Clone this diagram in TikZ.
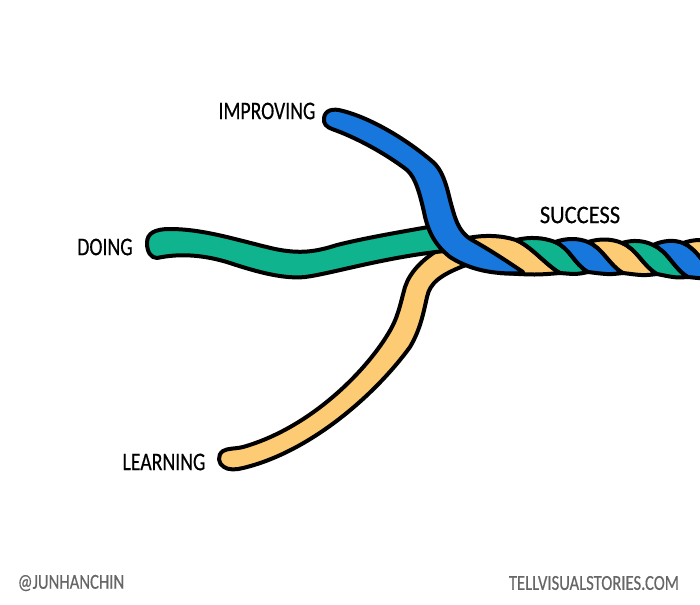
\documentclass[tikz,border=0pt]{standalone}
\usepackage{fontspec}
\setmainfont[FakeStretch=0.78,FakeBold=0.4]{Carlito}
\definecolor{ropeblue}{HTML}{1877DC}
\definecolor{ropegreen}{HTML}{0FB48F}
\definecolor{ropeyellow}{HTML}{FDCB73}
\definecolor{creditgrey}{HTML}{666666}
\tikzset{
  strand/.style={draw=black,line width=3pt,line join=round,fill=#1},
  tag/.style={font=\fontsize{19}{19}\selectfont,text=black,inner sep=0pt},
  credit/.style={font=\fontsize{16}{16}\selectfont,text=creditgrey,inner sep=0pt}
}
% One twist of the rope: top arc, right seam, bottom arc, left seam
\newcommand{\twist}[9]{%
  \draw[strand=#1] (#2,#3) .. controls ($(#2,#3)!.35!(#4,#5)+(0,-4)$) and ($(#2,#3)!.7!(#4,#5)+(0,-4)$) .. (#4,#5)
    .. controls ($(#4,#5)+(15,6)$) and ($(#6,#7)+(-14,-8)$) .. (#6,#7)
    .. controls ($(#6,#7)!.4!(#8,#9)+(0,2)$) .. (#8,#9)
    .. controls ($(#8,#9)+(-14,-8)$) and ($(#2,#3)+(15,6)$) .. cycle;}
\usetikzlibrary{calc}
\begin{document}
\begin{tikzpicture}[x=0.75pt,y=-0.75pt]
\useasboundingbox (0,0) rectangle (700,604);
\clip (0,0) rectangle (700,604);

% Free strands
\draw[strand=ropeyellow] (438,250) .. controls (422,260) and (410,272) .. (405,287)
  .. controls (400,305) and (398,318) .. (388,334)
  .. controls (365,372) and (310,428) .. (243,447)
  .. controls (235,449) and (228,448) .. (223,451)
  .. controls (217,455) and (218,464) .. (224,467)
  .. controls (228,470) and (236,470) .. (243,468)
  .. controls (310,452) and (375,395) .. (410,347)
  .. controls (420,330) and (423,315) .. (427,297)
  .. controls (430,283) and (440,275) .. (466,265)
  -- (480,245) -- cycle;
\draw[strand=ropegreen] (440,225) .. controls (400,232) and (365,238) .. (337,245)
  .. controls (315,252) and (300,254) .. (275,249)
  .. controls (240,241) and (205,229) .. (170,229)
  .. controls (155,229) and (147,233) .. (147,243)
  .. controls (147,252) and (151,258) .. (157,258)
  .. controls (180,253) and (205,255) .. (230,263)
  .. controls (260,273) and (285,279) .. (305,277)
  .. controls (330,274) and (385,257) .. (445,251)
  -- cycle;

% Twisted section, laid left to right
\twist{ropeyellow}{468}{238}{516}{240}{560}{273}{500}{273}
\twist{ropegreen}{516}{240}{555}{242}{588}{272}{560}{273}
\twist{ropeblue}{555}{242}{588}{242}{623}{273}{588}{272}
\twist{ropeyellow}{588}{242}{622}{243}{657}{274}{623}{273}
\twist{ropegreen}{622}{243}{653}{245}{688}{277}{657}{274}
\twist{ropeblue}{653}{245}{683}{243}{720}{277}{688}{277}
\twist{ropeyellow}{683}{243}{716}{243}{750}{277}{720}{277}

% Blue strand crossing over the others
\draw[strand=ropeblue] (523,272) .. controls (505,260) and (490,250) .. (472,240)
  .. controls (458,232) and (455,218) .. (450,200)
  .. controls (446,183) and (442,170) .. (433,162)
  .. controls (405,138) and (370,118) .. (343,111)
  .. controls (333,108) and (325,110) .. (324,118)
  .. controls (323,124) and (327,127) .. (332,129)
  .. controls (355,137) and (385,153) .. (407,170)
  .. controls (416,178) and (420,195) .. (424,212)
  .. controls (428,232) and (435,245) .. (450,257)
  .. controls (470,270) and (495,275) .. (523,273)
  -- cycle;

% Labels
\node[tag] (improving) at (267,111) {IMPROVING};
\node[tag] (doing) at (105,247) {DOING};
\node[tag] (learning) at (164,462) {LEARNING};
\node[tag,xscale=1.14] (success) at (580,215) {SUCCESS};
\node[credit] (author) at (71,583) {@JUNHANCHIN};
\node[credit] (site) at (594,583) {TELLVISUALSTORIES.COM};
\end{tikzpicture}
\end{document}
